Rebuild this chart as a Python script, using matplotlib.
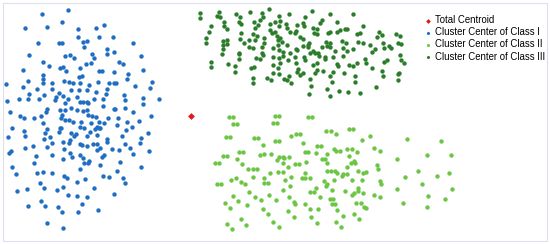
import matplotlib.pyplot as plt
from matplotlib.patches import Rectangle

# embedding coordinates (arbitrary units, y grows downward)
class1_x = [125, 205, 75, 140, 187, 233, 289, 313, 114, 177, 185, 233, 250, 260, 252, 297, 338, 398,
            88, 195, 210, 222, 275, 283, 320, 320, 342, 422, 130, 148, 180, 188, 198, 240, 258, 272, 296, 307,
            358, 368, 343, 385, 428, 68, 128, 130, 83, 155, 193, 208, 220, 238, 245, 240, 266, 295, 328, 342,
            349, 380, 455, 18, 70, 130, 110, 155, 178, 190, 212, 236, 262, 288, 320, 318, 404, 451,
            88, 57, 22, 85, 118, 133, 168, 165, 203, 230, 240, 262, 282, 310, 372, 375, 428, 476,
            195, 250, 265, 310, 343, 345, 375, 430,
            30, 60, 72, 103, 122, 140, 137, 180, 185, 195, 212, 220, 230, 248, 262, 265, 275, 287, 325, 354, 398, 452,
            130, 183, 195, 208, 242, 253, 273, 290, 300, 297, 313, 350, 380, 417,
            35, 72, 75, 25, 140, 136, 133, 150, 180, 183, 176, 213, 222, 210, 228, 240, 260, 270, 286, 298, 292,
            320, 321, 365, 378, 396, 443, 422,
            75, 100, 140, 157, 188, 208, 240, 245, 262, 280, 290, 300, 335, 376, 390, 420,
            28, 32, 155, 192, 210, 215, 241, 248, 290, 305, 312, 358, 398, 447,
            108, 102, 190, 252, 268, 265, 300, 360, 422,
            35, 47, 110, 128, 157, 191, 200, 240, 256, 309, 328, 350, 368, 375,
            120, 132, 172, 190, 205, 232, 232, 262, 282, 342, 50, 80,
            123, 135, 83, 175, 185, 233, 246, 295, 140, 188]
class1_y = [42, 30, 83, 80, 66, 87, 85, 75, 128, 128, 130, 111, 125, 123, 140, 111, 111, 130,
            166, 168, 165, 175, 162, 175, 148, 162, 157, 168, 187, 198, 205, 200, 212, 205, 193, 190, 213, 212,
            185, 193, 217, 222, 210, 210, 225, 236, 242, 248, 243, 245, 248, 232, 228, 250, 255, 245, 250, 248,
            248, 238, 245, 253, 262, 250, 268, 268, 280, 288, 270, 270, 270, 275, 268, 282, 258, 263,
            283, 298, 302, 298, 297, 286, 292, 300, 296, 292, 305, 305, 296, 297, 285, 300, 295, 298,
            310, 305, 310, 318, 327, 327, 325, 312,
            335, 348, 355, 353, 347, 328, 337, 330, 345, 330, 325, 365, 330, 333, 330, 345, 347, 350, 353, 353, 337, 349,
            368, 355, 360, 360, 365, 383, 370, 380, 383, 367, 370, 376, 365, 362,
            385, 393, 407, 410, 388, 400, 418, 412, 385, 383, 397, 398, 408, 420, 402, 380, 408, 395, 388, 385, 404,
            418, 425, 408, 390, 380, 400, 415,
            443, 437, 440, 430, 425, 430, 432, 435, 437, 432, 432, 445, 447, 432, 445, 430,
            460, 452, 465, 448, 460, 470, 466, 475, 450, 470, 465, 450, 462, 452,
            468, 488, 478, 488, 483, 488, 495, 485, 500,
            502, 523, 520, 515, 518, 527, 535, 508, 537, 527, 530, 513, 535, 548,
            550, 565, 570, 562, 585, 545, 587, 590, 565, 582, 573, 567,
            603, 617, 617, 620, 635, 637, 612, 630, 668, 685]

class2_x = [688, 700, 700, 712, 825, 837, 818, 830, 925, 937,
            678, 690, 762, 775, 825, 838, 790, 873, 888, 900, 978, 992, 1008, 1047, 1060, 1085, 1110, 910, 950, 962,
            1220, 1322,
            670, 680, 645, 657, 718, 730, 710, 727, 780, 792, 812, 830, 838, 848, 853, 848, 868, 885, 898, 915, 925,
            918, 948, 965, 975, 980, 982, 1002, 1008, 1020, 1042, 1057, 1048, 1070, 1053, 1065, 1063, 1040, 1122,
            1140, 1130, 1133, 1192, 1282, 1352,
            745, 758, 770, 760, 792, 810, 835, 848, 865, 792, 805, 855, 872, 870, 905, 915, 930, 915, 980, 992,
            1005, 1010, 1025, 1030, 1040, 1002, 972, 980, 978, 1055, 1075, 1090, 1097, 1085, 1140, 1142, 1215,
            1253, 1312, 1348,
            650, 662, 692, 707, 722, 735, 698, 714, 748, 765, 783, 808, 827, 850, 868, 882, 884, 915, 930, 942,
            948, 960, 990, 998, 995, 1035, 1055, 1062, 1073, 1075, 1088, 1122, 1140, 1190, 1267, 1355,
            675, 690, 742, 788, 805, 865, 882, 930, 955, 932, 950, 995, 1005, 1010, 1028, 1068, 1082, 1092,
            1098, 1062, 1078, 1208, 1285, 1282, 1335,
            680, 695, 722, 738, 820, 838, 1007, 1022]
class2_y = [350, 350, 372, 372, 347, 347, 368, 368, 352, 352,
            412, 412, 415, 415, 422, 422, 435, 407, 402, 402, 392, 392, 403, 388, 388, 420, 408, 430, 437, 437,
            417, 422,
            467, 467, 490, 490, 457, 457, 478, 492, 465, 463, 463, 480, 470, 470, 475, 490, 470, 492, 492, 457, 457,
            485, 460, 477, 477, 463, 488, 448, 452, 452, 447, 447, 467, 455, 490, 488, 482, 500, 443,
            453, 495, 508, 477, 465, 465,
            507, 508, 507, 530, 535, 520, 515, 515, 502, 548, 548, 540, 530, 558, 533, 533, 535, 520, 512, 512,
            512, 520, 528, 523, 522, 540, 543, 552, 558, 540, 512, 520, 515, 540, 543, 552, 530, 513, 527, 520,
            552, 552, 540, 535, 545, 552, 587, 602, 575, 592, 600, 585, 600, 570, 592, 606, 612, 612, 575, 575,
            565, 592, 596, 596, 570, 572, 585, 580, 573, 565, 580, 585, 590, 567, 552, 567,
            610, 625, 615, 627, 643, 633, 650, 628, 628, 652, 668, 613, 613, 630, 648, 608, 610, 622,
            625, 642, 658, 608, 587, 622, 598,
            672, 687, 657, 675, 667, 682, 665, 682]

class3_x = [600, 600, 658, 650, 660, 708, 720, 750, 785, 790, 808, 838, 868, 915, 937, 990, 1060,
            632, 627, 618, 618, 673, 672, 680, 718, 723, 722, 762, 765, 775, 780, 810, 825, 840, 838, 858, 860,
            890, 910, 912, 965, 960, 1010, 1035, 1090,
            670, 680, 670, 682, 720, 732, 748, 760, 770, 792, 765, 810, 815, 825, 830, 840, 835, 845, 870, 888,
            885, 900, 908, 940, 942, 950, 950, 985, 990, 1010, 1020, 1040, 1070, 1080, 1138, 1145, 1130, 1188, 1200,
            668, 667, 718, 716, 748, 760, 785, 787, 792, 820, 835, 838, 848, 860, 870, 888, 892, 910, 928, 925,
            940, 925, 955, 965, 978, 980, 990, 990, 1005, 1025, 1038, 1028, 1042, 1058, 1075, 1088, 1110, 1125,
            1115, 1150, 1152, 1167, 1172, 1195, 1202,
            632, 632, 685, 705, 705, 717, 752, 762, 768, 780, 788, 818, 818, 838, 840, 850, 863, 886, 888, 913,
            916, 930, 945, 952, 958, 975, 975, 1000, 1010, 1015, 1028, 1048, 1058, 1070, 1095, 1098, 1116, 1152,
            1160, 1200, 1202, 1212,
            758, 760, 800, 813, 818, 835, 838, 852, 862, 867, 873, 895, 890, 900, 908, 930, 938, 945, 950, 968,
            990, 995, 1000, 1032, 1065, 1065, 1145, 1148, 1195, 1198, 1195,
            928, 932, 982, 990, 1018, 1045, 1080, 1128]
class3_y = [40, 55, 35, 48, 50, 43, 50, 35, 40, 52, 28, 47, 42, 50, 32, 42, 43,
            78, 95, 113, 128, 65, 78, 87, 65, 72, 100, 65, 85, 75, 60, 72, 65, 62, 78, 72, 85,
            75, 68, 78, 60, 68, 65, 88, 78,
            122, 120, 135, 133, 118, 128, 120, 103, 108, 113, 120, 90, 100, 95, 108, 115, 120, 125, 95, 92,
            100, 110, 118, 85, 100, 103, 88, 98, 95, 95, 90, 88, 102, 98, 97, 105, 110, 103, 108,
            148, 163, 158, 163, 140, 143, 140, 158, 128, 145, 135, 150, 155, 135, 158, 148, 150, 138, 128, 135,
            152, 140, 160, 140, 125, 138, 140, 130, 152, 122, 128, 143, 152, 148, 125, 128, 135, 148, 155,
            128, 145, 138, 145, 128, 133,
            185, 200, 192, 198, 215, 178, 205, 200, 175, 178, 165, 172, 195, 175, 190, 168, 180, 170, 188, 172,
            180, 160, 160, 190, 168, 170, 178, 170, 192, 198, 168, 195, 198, 188, 178, 188, 205, 185, 180, 165,
            180, 188,
            235, 248, 235, 240, 218, 205, 222, 238, 240, 228, 250, 208, 215, 225, 220, 238, 195, 218, 210, 213,
            228, 245, 215, 218, 228, 245, 212, 228, 223, 218, 240,
            282, 258, 268, 288, 272, 275, 278, 260]

centroid_x = [573]
centroid_y = [348]

labels = ["Total Centroid", "Cluster Center of Class I",
          "Cluster Center of Class II", "Cluster Center of Class III"]
colors = ["#e31a1c", "#1f6ec2", "#6cc644", "#2b7d2b"]

plt.rcParams['font.family'] = ['Liberation Sans', 'DejaVu Sans']

fig = plt.figure(figsize=(5.5, 2.44), dpi=100)
ax = fig.add_axes([0, 0, 1, 1])
ax.set_xlim(0, 1650)
ax.set_ylim(732, 0)
ax.axis("off")

h0 = ax.scatter(centroid_x, centroid_y, s=12, marker="D", color=colors[0], linewidths=0)
h1 = ax.scatter(class1_x, class1_y, s=10, color=colors[1], linewidths=0)
h2 = ax.scatter(class2_x, class2_y, s=10, color=colors[2], linewidths=0)
h3 = ax.scatter(class3_x, class3_y, s=10, color=colors[3], linewidths=0)

fig.legend([h0, h1, h2, h3], labels, loc="upper left", bbox_to_anchor=(0.76, 0.965),
           frameon=False, fontsize=6.9, markerscale=0.7, handlelength=0.6, handletextpad=0.5,
           labelspacing=0.22, borderpad=0.2)

fig.patches.append(Rectangle((0.005, 0.013), 0.99, 0.975, transform=fig.transFigure,
                             fill=False, edgecolor="#dcdff0", linewidth=0.8))

fig.savefig("out.png", dpi=100)
